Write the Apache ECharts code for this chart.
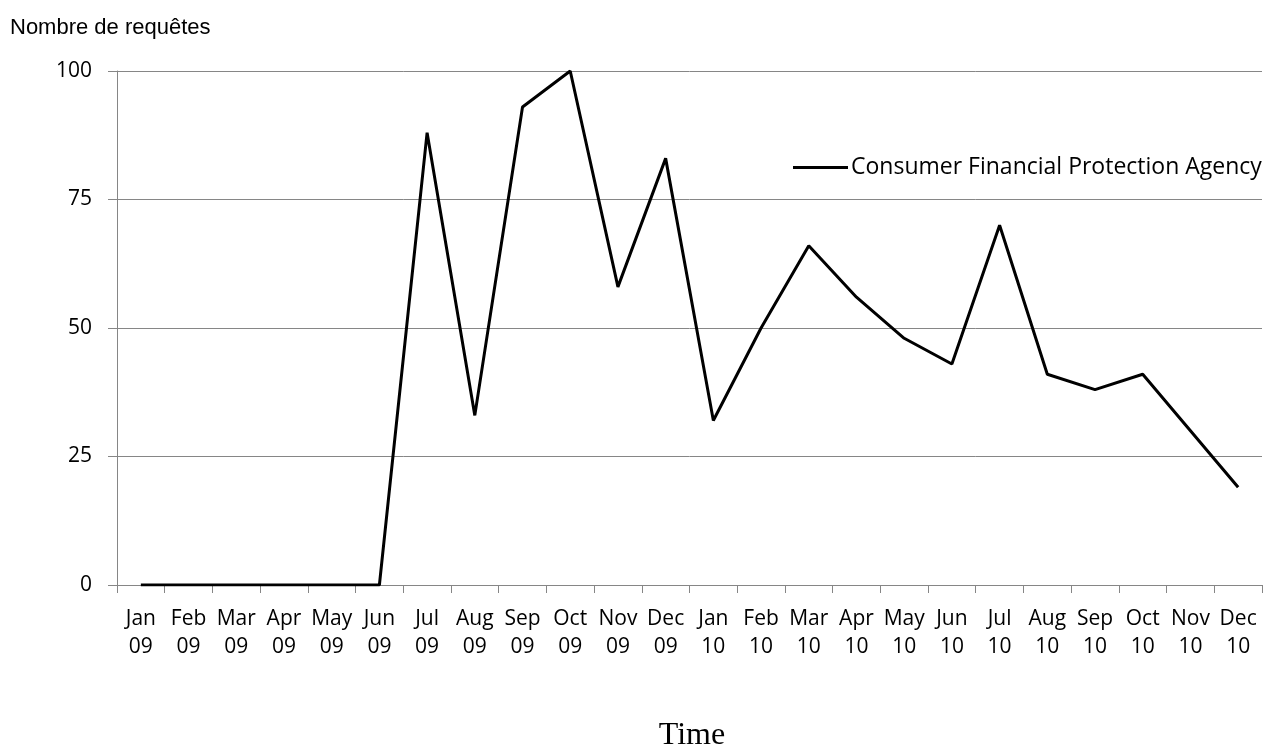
<!DOCTYPE html>
<html>
<head>
<meta charset="utf-8">
<script src="https://cdn.jsdelivr.net/npm/echarts@6/dist/echarts.min.js"></script>
<style>
  html, body { margin: 0; padding: 0; background: #fff; }
  #box { width: 1270px; height: 748px; }
</style>
</head>
<body>
<div id="box"></div>
<script>
// months shown on the x axis (two-line labels)
var months = ['Jan', 'Feb', 'Mar', 'Apr', 'May', 'Jun', 'Jul', 'Aug', 'Sep', 'Oct', 'Nov', 'Dec'];
var years = ['09', '10'];
// number of requests per month
var seriesName = 'Consumer Financial Protection Agency';
var requests = [0, 0, 0, 0, 0, 0, 88, 33, 93, 100, 58, 83,
                32, 50, 66, 56, 48, 43, 70, 41, 38, 41, 30, 19];

var categories = [];
years.forEach(function (y) {
  months.forEach(function (m) {
    categories.push(m + '\n' + y);
  });
});

var labelFont = '"Open Sans", sans-serif';
var gray = '#868686';

var myChart = echarts.init(document.getElementById('box'));
var option = {
  animation: false,
  backgroundColor: '#fff',
  grid: {
    left: 117,
    right: 8,
    top: 71,
    bottom: 163,
    containLabel: false
  },
  legend: {
    left: 793,
    top: 156,
    padding: 0,
    icon: 'rect',
    itemWidth: 55,
    itemHeight: 3,
    data: [seriesName],
    textStyle: {
      fontFamily: labelFont,
      fontSize: 23,
      color: '#000',
      padding: [0, 0, 0, -2]
    }
  },
  xAxis: {
    type: 'category',
    data: categories,
    boundaryGap: true,
    axisLine: { lineStyle: { color: gray, width: 1 } },
    axisTick: { show: true, length: 8, lineStyle: { color: gray } },
    axisLabel: {
      interval: 0,
      margin: 20,
      fontFamily: labelFont,
      fontSize: 21,
      lineHeight: 28,
      color: '#000'
    },
    splitLine: { show: false }
  },
  yAxis: {
    type: 'value',
    min: 0,
    max: 100,
    interval: 25,
    axisLine: { show: true, lineStyle: { color: gray, width: 1 } },
    axisTick: { show: true, length: 9, lineStyle: { color: gray } },
    axisLabel: {
      margin: 25,
      fontFamily: labelFont,
      fontSize: 21,
      color: '#000'
    },
    splitLine: { show: true, lineStyle: { color: gray, width: 1 } }
  },
  graphic: [
    {
      type: 'text',
      left: 10,
      top: 17,
      style: {
        text: 'Nombre de requêtes',
        font: '22px "Liberation Sans", Arial, sans-serif',
        fill: '#000'
      }
    },
    {
      type: 'text',
      x: 692,
      y: 736,
      style: {
        text: 'Time',
        font: '32px "Liberation Serif", "Times New Roman", serif',
        fill: '#000',
        align: 'center',
        verticalAlign: 'middle'
      }
    }
  ],
  series: [
    {
      name: seriesName,
      type: 'line',
      data: requests,
      symbol: 'none',
      lineStyle: { color: '#000', width: 3 },
      itemStyle: { color: '#000' }
    }
  ]
};
myChart.setOption(option);
</script>
</body>
</html>
